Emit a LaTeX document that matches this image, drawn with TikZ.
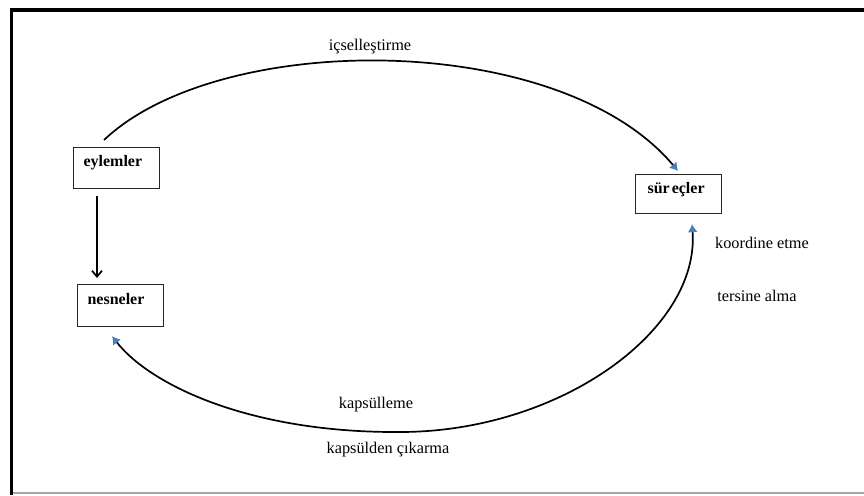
\documentclass[tikz,border=0pt]{standalone}
\usepackage{fontspec}
\setmainfont{Liberation Serif}
\usetikzlibrary{arrows.meta,calc}
\definecolor{tipblue}{HTML}{4A7EBB}
\tikzset{
  box/.style={draw=black!85, line width=1.1pt, anchor=north west, inner ysep=0pt, align=left,
    font=\fontsize{16}{18}\selectfont\bfseries},
  lbl/.style={font=\fontsize{16.3}{18}\selectfont, inner sep=0pt},
  conn/.style={line width=1.7pt, black},
  btip/.tip={Latex[length=8pt,width=10pt,color=tipblue]},
}
\begin{document}
\begin{tikzpicture}[x=1pt,y=-1pt]
\useasboundingbox (0,0) rectangle (864,495);
\fill[white] (0,0) rectangle (864,495);
% frame
\draw[gray!70, line width=1.6pt] (10,493) -- (864,493);
\draw[line width=3.8pt, line join=miter] (11.5,494.5) -- (11.5,10) -- (870,10);
% boxes
\node[box, inner xsep=10pt, text width=66pt, text height=19pt, text depth=22pt] (eyl) at (73,147) {eylemler};
\node[box, inner xsep=12pt, text width=62pt, text height=19pt, text depth=20pt] (sur) at (635,174) {sür\hspace{2pt}eçler};
\node[box, inner xsep=10pt, text width=66pt, text height=20pt, text depth=22pt] (nes) at (77,284) {nesneler};
% labels
\node[lbl] (l1) at (370,47) {içselleştirme};
\node[lbl] (l2) at (762,243) {koordine etme};
\node[lbl] (l3) at (757,296) {tersine alma};
\node[lbl] (l4) at (376,405) {kapsülleme};
\node[lbl] (l5) at (388,450) {kapsülden çıkarma};
% connectors
\draw[conn, -{btip}] ($(eyl.north west)+(31,-7)$) .. controls (220,30) and (560,30) .. ($(sur.north west)+(43,-3)$);
\draw[conn, -{Straight Barb[length=6pt,width=10pt]}] ($(eyl.south west)+(24,7)$) -- ($(nes.north west)+(20,-6)$);
\draw[conn, {btip}-{btip}] ($(sur.south west)+(57,10)$) .. controls (700,330) and (560,432) .. (400,432) .. controls (250,433) and (150,385) .. ($(nes.south west)+(35,9)$);
\end{tikzpicture}
\end{document}
